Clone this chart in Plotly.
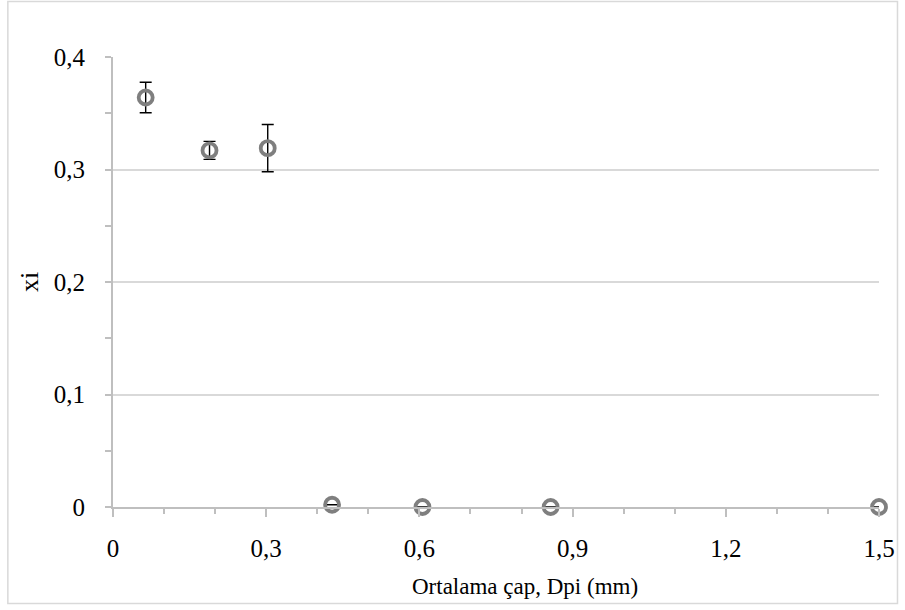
import plotly.graph_objects as go

# Data
dpi_mm = [0.064, 0.189, 0.303, 0.429, 0.606, 0.857, 1.5]
xi = [0.364, 0.317, 0.319, 0.002, 0.0, 0.0, 0.0]
xi_err = [0.0135, 0.008, 0.021, 0.0, 0.0, 0.0, 0.0]

x_tickvals = [0, 0.3, 0.6, 0.9, 1.2, 1.5]
x_ticktext = ["0", "0,3", "0,6", "0,9", "1,2", "1,5"]
y_tickvals = [0, 0.1, 0.2, 0.3, 0.4]
y_ticktext = ["0", "0,1", "0,2", "0,3", "0,4"]
x_title = "Ortalama çap, Dpi (mm)"
y_title = "xi"

W, H = 905, 610
L, R, T, B = 112.7, 26, 57, 103

FONT = "Liberation Serif"
AX = "#bfbfbf"

fig = go.Figure()
fig.add_trace(go.Scatter(
    x=dpi_mm, y=xi, mode="markers",
    marker=dict(symbol="circle-open", size=14, color="#7f7f7f",
                line=dict(width=3.8, color="#7f7f7f")),
    error_y=dict(type="data", array=xi_err, visible=True, color="#000000",
                 thickness=1.4, width=6),
    cliponaxis=False, showlegend=False,
))

pw = W - L - R
ph = H - T - B
def px_to_paper_x(px):
    return (px - L) / pw
def px_to_paper_y(py):
    return (H - B - py) / ph

# outer chart border
fig.add_shape(type="rect", xref="paper", yref="paper",
              x0=px_to_paper_x(7.5), x1=px_to_paper_x(897.5),
              y0=px_to_paper_y(603.5), y1=px_to_paper_y(1.5),
              line=dict(color="#d9d9d9", width=1.5), fillcolor="rgba(0,0,0,0)",
              layer="below")

# x-axis title (placed as in the reference, slightly right of plot centre)
fig.add_annotation(text=x_title, xref="paper", yref="paper",
                   x=px_to_paper_x(525), y=px_to_paper_y(586),
                   xanchor="center", yanchor="middle", showarrow=False,
                   font=dict(family=FONT, size=23, color="#000000"))

fig.update_layout(
    width=W, height=H,
    margin=dict(l=L, r=R, t=T, b=B, autoexpand=False),
    paper_bgcolor="white", plot_bgcolor="white",
    font=dict(family=FONT, size=25, color="#000000"),
    xaxis=dict(
        range=[0, 1.5], tickvals=x_tickvals, ticktext=x_ticktext,
        showgrid=False, zeroline=False,
        showline=True, linecolor=AX, linewidth=2,
        ticks="outside", ticklen=8, tickwidth=2, tickcolor=AX,
        minor=dict(dtick=0.1, tick0=0, ticks="outside", ticklen=5,
                   tickwidth=2, tickcolor=AX, showgrid=False),
        ticklabelstandoff=10,
        tickfont=dict(size=25),
    ),
    yaxis=dict(
        range=[0, 0.4], tickvals=y_tickvals, ticktext=y_ticktext,
        showgrid=True, gridcolor="#d9d9d9", gridwidth=1.5,
        zeroline=False,
        showline=True, linecolor=AX, linewidth=2,
        ticks="outside", ticklen=6, tickwidth=2, tickcolor=AX,
        minor=dict(dtick=0.05, tick0=0, ticks="outside", ticklen=6,
                   tickwidth=2, tickcolor=AX, showgrid=False),
        ticklabelstandoff=15,
        title=dict(text=y_title, standoff=8, font=dict(size=26)),
        tickfont=dict(size=25),
    ),
)

fig.write_html("out.html")
